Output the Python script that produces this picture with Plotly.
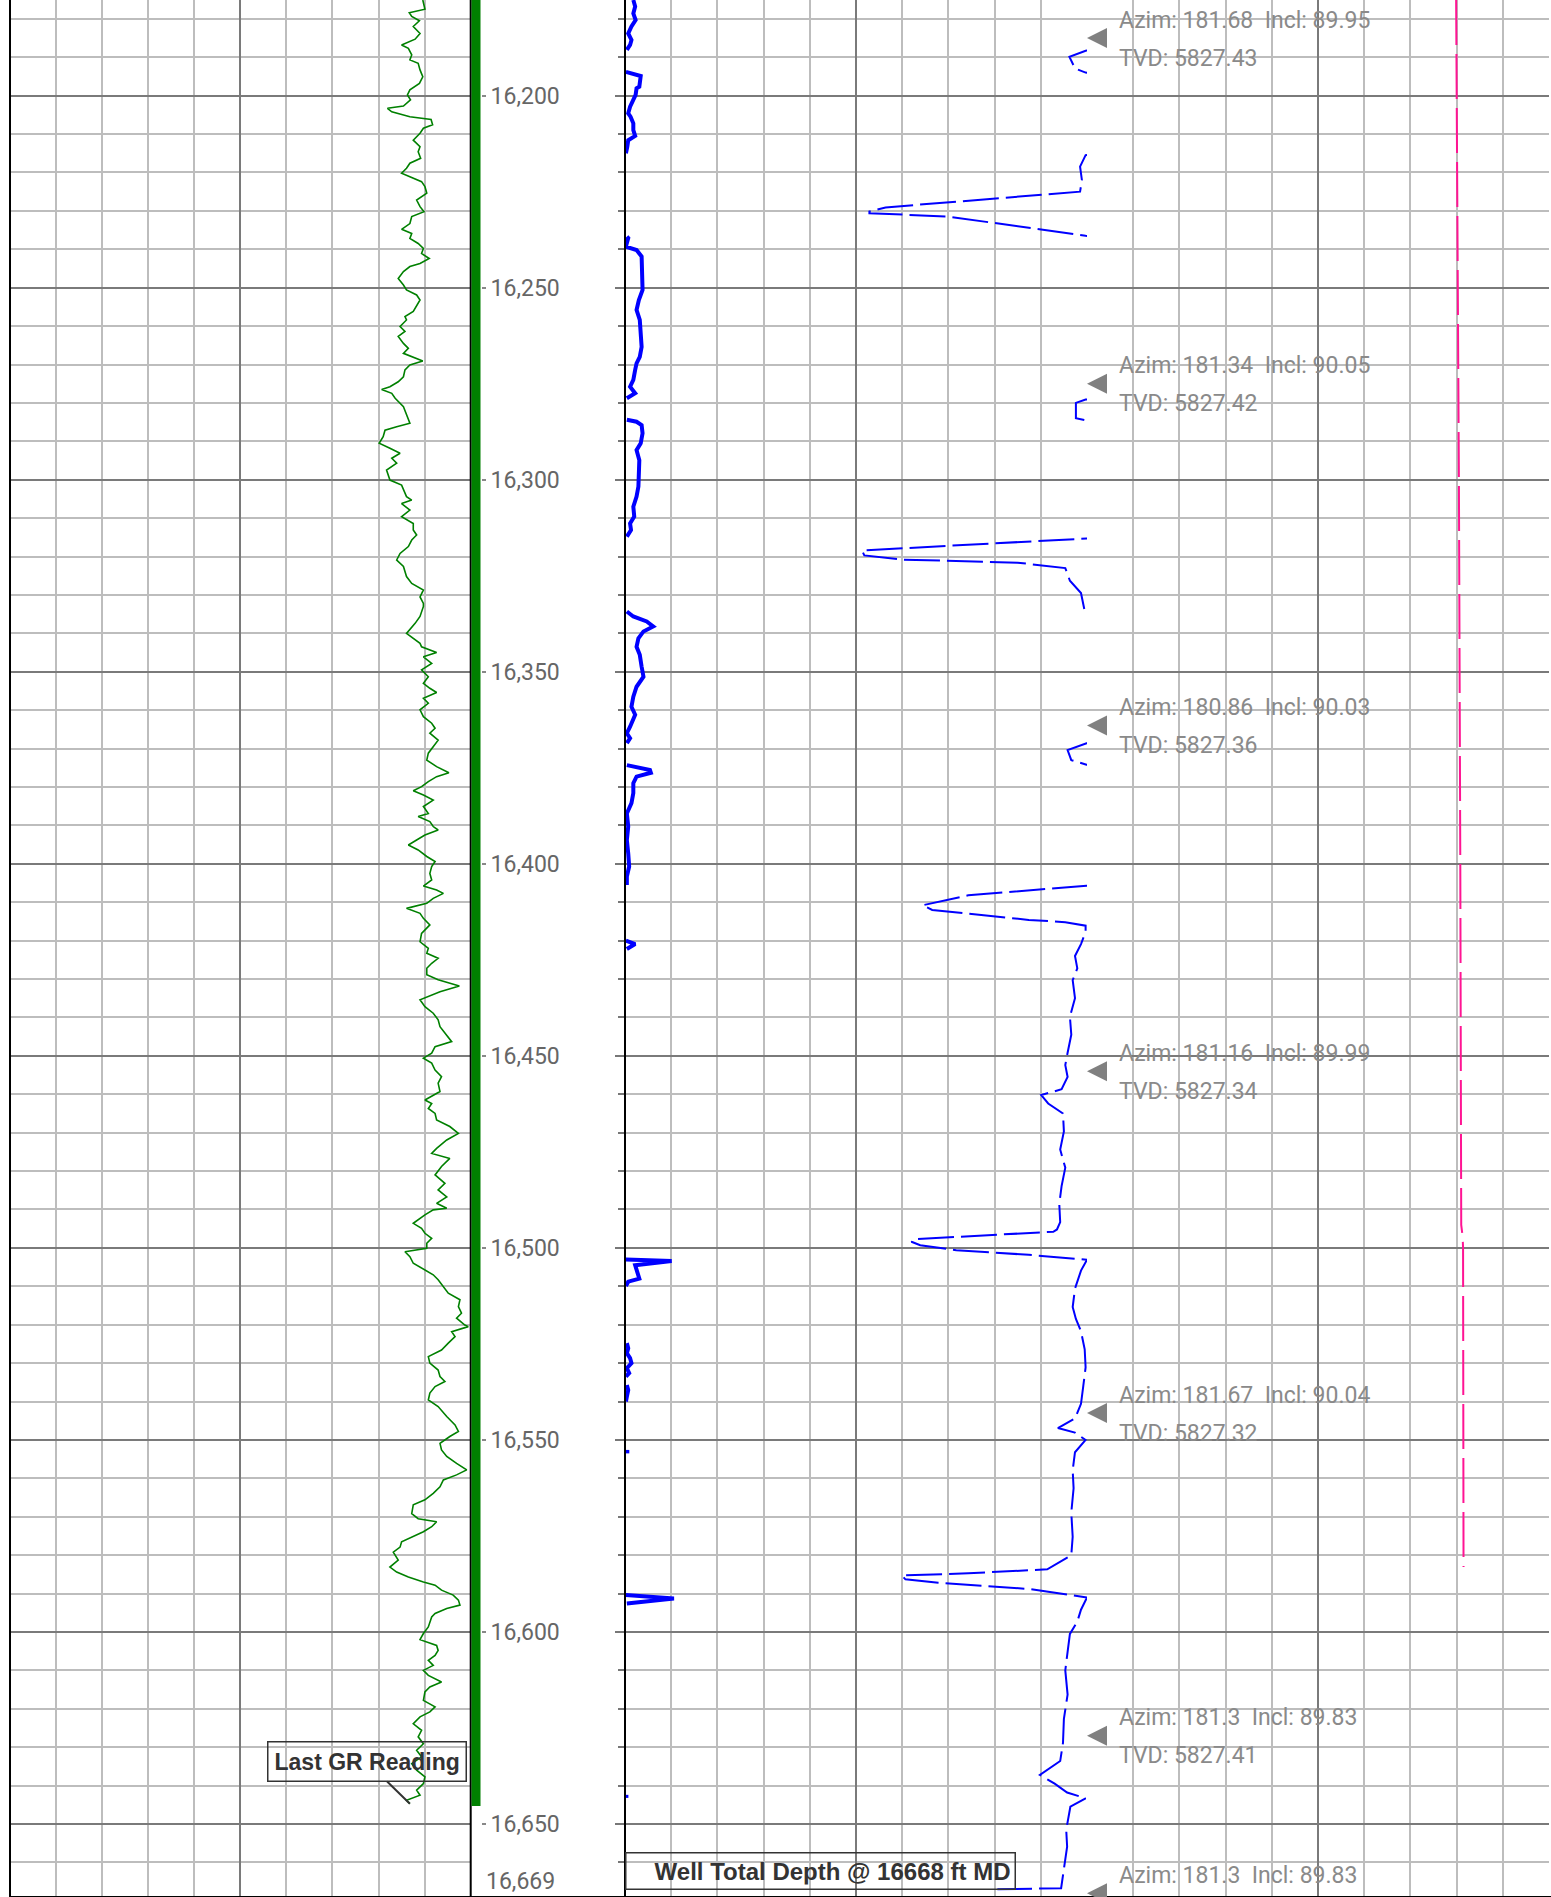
import plotly.graph_objects as go

W, H = 1551, 1897

# ---------------- data ----------------
depth_top = 16175.1
depth_bottom = 16669.0
depth_ticks = [16200, 16250, 16300, 16350, 16400, 16450, 16500, 16550, 16600, 16650]
last_depth_label = "16,669"

gr_depth = [16175.1, 16177.5, 16178.4, 16179.4, 16180.5, 16182.0, 16183.8, 16185.3, 16186.8, 16187.7,
            16189.4, 16190.7, 16191.6, 16193.3, 16195.1, 16196.8, 16198.5, 16199.8, 16201.1, 16202.7,
            16203.3, 16204.2, 16205.5, 16206.2, 16207.6, 16208.5, 16209.8, 16211.6, 16213.3, 16214.6,
            16216.3, 16217.6, 16218.9, 16220.2, 16221.1, 16222.4, 16223.7, 16225.4, 16227.2, 16228.9,
            16230.2, 16231.5, 16233.3, 16234.8, 16235.9, 16237.2, 16238.5, 16239.8, 16241.1, 16242.4,
            16243.7, 16244.5, 16245.8, 16247.6, 16249.3, 16250.6, 16251.9, 16253.2,
            16256.2, 16257.5, 16258.4, 16260.1, 16261.4, 16262.7, 16264.5, 16265.8, 16267.1, 16268.0,
            16269.1, 16270.1, 16271.4, 16273.2, 16274.5, 16275.8, 16276.5, 16277.5, 16278.8, 16281.0,
            16283.2, 16285.3, 16286.2, 16287.1, 16288.8, 16290.5, 16291.8, 16293.1, 16294.4, 16295.7,
            16297.5, 16300.1, 16301.4, 16302.7, 16304.4, 16305.3, 16306.2, 16307.9, 16309.6, 16311.4,
            16313.1, 16314.4, 16315.7, 16317.4, 16319.2, 16320.9, 16322.6, 16325.2, 16327.0, 16328.7,
            16330.5, 16332.2,
            16333.0, 16335.6, 16337.4, 16340.0, 16341.3, 16342.6, 16343.5, 16345.0, 16346.1, 16347.8,
            16349.5, 16351.3, 16353.0, 16354.3, 16355.4, 16356.9, 16358.2, 16359.9, 16361.7, 16363.4,
            16364.7, 16366.0, 16367.8, 16369.5, 16371.2, 16373.0, 16374.7, 16376.3, 16377.3, 16378.6,
            16379.9, 16381.0, 16382.1, 16383.4, 16385.1, 16386.9, 16387.7, 16389.0, 16390.3, 16391.2,
            16392.5, 16393.8, 16395.1, 16396.4, 16398.1, 16399.4, 16400.7, 16402.5, 16404.2, 16405.8,
            16406.8, 16407.7, 16409.0, 16410.3, 16411.6,
            16412.9, 16414.2, 16415.9, 16418.1, 16420.3, 16422.0, 16423.3, 16424.6, 16425.9, 16427.2,
            16428.9, 16430.2, 16431.8, 16433.3, 16435.4, 16437.2, 16438.9, 16440.6, 16442.4, 16444.1,
            16446.3, 16447.6, 16449.3, 16450.6, 16451.9, 16453.7, 16455.4, 16457.1, 16459.3, 16461.5,
            16462.4, 16463.7, 16465.0, 16466.7, 16468.4, 16470.2, 16471.9, 16474.1, 16475.4, 16476.7,
            16478.8, 16481.0, 16483.2, 16484.9, 16486.7, 16488.4, 16489.7,
            16490.1, 16491.4, 16493.6, 16494.9, 16496.2, 16497.5, 16498.8, 16500.1, 16501.0, 16502.3,
            16504.0, 16505.7, 16507.0, 16508.3, 16510.1, 16511.8, 16513.5, 16515.3, 16517.0, 16518.3,
            16520.1, 16520.5, 16521.8, 16523.1, 16524.8, 16526.6, 16528.3, 16530.0, 16531.8, 16533.5,
            16534.8, 16536.1, 16537.8, 16539.6, 16541.3, 16543.9, 16546.1, 16547.8, 16549.1, 16550.9,
            16552.6, 16554.3, 16556.1, 16557.8, 16559.1, 16560.4, 16562.2, 16563.9, 16565.6, 16566.9,
            16569.2, 16570.5, 16571.3, 16572.6, 16573.9, 16575.2, 16576.5, 16577.9, 16579.2, 16581.3,
            16583.1, 16584.4, 16585.7, 16587.0, 16587.8, 16589.1, 16590.4, 16591.7, 16593.0, 16593.9,
            16595.2, 16596.1, 16597.4, 16598.7, 16600.4, 16602.0, 16603.5, 16604.8, 16606.1, 16607.4,
            16608.7, 16610.0, 16611.3, 16613.0, 16614.3, 16615.6, 16617.8, 16619.5, 16620.8, 16622.1,
            16623.9, 16625.6, 16627.3, 16629.1, 16630.8, 16632.5, 16634.3, 16636.0, 16637.7, 16639.5,
            16641.2, 16642.5, 16643.8, 16644.7]
gr_value = [134.4, 135.1, 130.0, 130.8, 133.3, 131.3, 133.5, 131.9, 127.5, 129.7,
            130.8, 130.2, 132.9, 133.5, 134.4, 133.3, 130.2, 129.4, 130.4, 128.1,
            122.9, 124.3, 130.2, 137.1, 137.6, 134.6, 133.5, 131.3, 133.5, 132.9,
            133.7, 130.2, 129.1, 127.5, 130.2, 134.0, 135.1, 135.7, 132.4, 133.5,
            134.8, 130.8, 130.2, 127.5, 130.8, 130.2, 132.9, 134.6, 134.0, 136.5,
            133.5, 130.2, 128.1, 126.4, 128.1, 129.1, 132.4, 133.5,
            131.3, 128.6, 129.1, 127.0, 128.6, 126.4, 128.1, 129.7, 128.1, 130.8,
            134.4, 130.2, 128.6, 128.1, 126.4, 123.7, 121.0, 124.3, 125.4, 128.1,
            129.1, 130.2, 125.9, 122.1, 121.5, 120.2, 123.7, 127.0, 124.3, 125.9,
            122.6, 123.7, 127.5, 128.1, 129.1, 130.8, 127.5, 130.2, 127.5, 131.3,
            131.3, 132.4, 130.8, 129.7, 127.0, 125.9, 128.1, 129.1, 130.8, 134.6,
            133.5, 134.6,
            134.6, 133.5, 131.9, 129.1, 131.3, 133.5, 134.0, 138.9, 134.6, 137.3,
            134.0, 136.2, 134.6, 136.7, 138.9, 134.6, 136.2, 133.5, 134.6, 137.3,
            138.4, 136.7, 139.4, 137.8, 136.2, 135.7, 138.9, 142.9, 138.9, 136.2,
            134.0, 131.3, 134.6, 137.8, 134.6, 136.2, 132.9, 136.7, 137.8, 139.4,
            135.1, 132.4, 129.7, 132.9, 135.7, 138.4, 137.3, 136.7, 137.3, 134.6,
            138.9, 141.1, 137.8, 135.7, 129.1,
            133.5, 134.6, 136.7, 134.0, 133.5, 136.2, 135.7, 139.4, 137.3, 135.7,
            135.7, 139.4, 146.3, 140.0, 133.5, 135.1, 137.8, 139.4, 140.0, 141.6,
            143.8, 138.4, 137.3, 134.6, 137.3, 138.4, 140.5, 139.4, 140.0, 135.1,
            137.3, 136.2, 138.4, 138.9, 143.2, 146.0, 142.2, 138.9, 137.3, 143.2,
            140.5, 138.4, 141.6, 139.4, 142.2, 138.9, 142.2,
            137.8, 135.1, 131.3, 134.0, 135.1, 137.3, 135.7, 135.7, 128.6, 130.2,
            131.3, 135.1, 137.8, 139.4, 141.1, 142.7, 146.5, 146.0, 147.0, 145.4,
            148.1, 149.2, 143.8, 144.9, 142.7, 140.5, 136.2, 136.7, 139.4, 140.0,
            141.6, 138.4, 136.7, 136.2, 139.4, 142.2, 144.9, 146.0, 143.2, 140.0,
            140.5, 142.2, 145.4, 148.7, 145.4, 141.1, 140.0, 137.8, 135.1, 131.3,
            130.8, 132.9, 138.9, 137.3, 134.6, 131.3, 127.5, 127.0, 124.8, 126.4,
            123.7, 125.9, 129.7, 134.6, 138.4, 140.5, 144.3, 146.0, 146.5, 142.2,
            138.4, 137.3, 136.7, 136.2, 134.6, 133.5, 138.9, 139.4, 138.4, 136.2,
            137.8, 134.6, 136.2, 140.5, 136.7, 135.1, 134.6, 138.4, 136.7, 133.5,
            131.3, 134.0, 132.9, 134.6, 132.4, 134.0, 130.8, 132.4, 135.1, 134.6,
            132.4, 133.5, 129.1, 130.2]

# thick blue curve (track 2, left), None = no data
rop_depth = [16175.1, 16176.8, 16178.6, 16180.3, 16182.0, 16183.8, 16185.5, 16186.8, 16188.1, None,
             16193.8, 16194.9, 16197.7, 16198.1, 16199.8, 16201.1, 16202.9, 16204.6, 16205.5, 16207.2,
             16209.0, 16210.5, 16211.6, 16213.3, 16215.0, None,
             16236.7, 16237.1, 16239.3, 16240.2, 16241.9, 16244.5, 16248.0, 16250.6, 16253.2, 16255.8,
             16258.4, 16261.9, 16265.4, 16268.0, 16269.7, 16271.4, 16274.0, 16275.8, 16277.5, 16278.8, None,
             16284.4, 16284.9, 16285.8, 16287.9, 16290.5, 16292.3, 16294.9, 16298.3, 16301.8, 16304.4,
             16307.0, 16309.6, 16311.4, 16313.1, 16314.8, None,
             16334.3, 16335.6, 16336.9, 16338.2, 16339.5, 16341.3, 16343.5, 16345.6, 16348.7, 16351.3,
             16353.9, 16356.5, 16359.1, 16361.2, 16364.3, 16366.0, 16367.3, 16368.6, None,
             16374.3, 16374.7, 16375.6, 16376.3, 16377.3, 16379.0, 16381.6, 16384.2, 16386.9, 16390.3,
             16393.8, 16397.3, 16400.7, 16403.3, 16405.5, None,
             16420.0, 16420.9, 16422.2, None,
             16503.0, 16503.4, 16504.5, 16505.7, 16508.0, 16508.8, 16509.9, None,
             16524.8, 16526.1, 16527.4, 16528.7, 16530.0, 16531.3, 16532.6, 16533.5, None,
             16535.7, 16537.0, 16538.7, 16540.0, None,
             16552.6, 16553.5, None,
             16590.4, 16591.3, 16592.6, None,
             16642.4, 16643.2]
rop_value = [1.8, 2.2, 1.8, 2.3, 1.4, 0.7, 1.4, 1.1, 0.4, None,
             0.2, 3.4, 3.1, 2.5, 2.3, 1.8, 1.1, 0.7, 1.2, 1.8,
             1.8, 2.2, 0.7, 0.5, 0.2, None,
             0.4, 0.7, 0.2, 2.5, 3.6, 3.6, 3.6, 3.8, 3.0, 2.5,
             3.2, 3.4, 3.6, 3.2, 2.5, 2.2, 1.8, 1.1, 2.2, 0.4, None,
             0.4, 2.5, 3.6, 3.8, 3.4, 2.5, 3.1, 2.9, 2.9, 2.5,
             1.8, 2.0, 1.1, 1.3, 0.4, None,
             0.4, 1.8, 4.7, 6.1, 4.0, 2.9, 2.5, 3.2, 3.6, 4.0,
             2.5, 1.8, 1.4, 2.2, 1.1, 0.4, 1.1, 0.4, None,
             0.4, 1.8, 5.4, 5.6, 2.5, 1.8, 1.8, 1.4, 0.4, 0.7,
             0.4, 0.7, 0.9, 0.4, 0.4, None,
             0.2, 2.2, 0.4, None,
             0.2, 10.1, 2.2, 2.5, 3.1, 0.7, 0.2, None,
             0.4, 0.7, 0.4, 1.1, 1.4, 0.4, 0.9, 0.2, None,
             0.4, 0.7, 0.4, 0.2, None,
             0.5, 0.5, None,
             0.2, 10.6, 0.4, None,
             0.3, 0.3]

# thin dashed blue curve (track 2); values above 100 run off the track
dx_depth = [16175.1, 16187.6, 16188.3, 16189.9, 16192.9, 16194.0, 16194.6, 16214.9, 16215.5, 16218.5,
            16222.0, 16225.0, 16229.1, 16230.2, 16230.6, 16231.5, 16233.1, 16234.8, 16236.5, 16237.1,
            16278.5, 16279.1, 16280.0, 16284.0, 16284.5, 16285.1, 16314.8, 16315.3, 16318.4, 16319.7,
            16320.8, 16321.6, 16323.0, 16326.3, 16329.5, 16334.2, 16334.8, 16368.0, 16368.6, 16370.4,
            16373.0, 16374.2, 16374.8, 16405.1, 16405.7, 16408.2, 16410.5, 16410.8, 16412.0, 16414.6,
            16415.2, 16416.1, 16417.7, 16420.9, 16424.0, 16427.2, 16430.3, 16435.0, 16439.8, 16444.5,
            16449.2, 16452.4, 16455.5, 16458.7, 16460.2, 16462.4, 16465.0, 16469.7, 16474.4, 16479.1,
            16483.9, 16488.6, 16493.3, 16495.2, 16495.8, 16497.7, 16498.4, 16499.3, 16500.6, 16501.8,
            16503.1, 16505.9, 16510.6, 16515.4, 16518.5, 16521.7, 16526.4, 16531.1, 16535.9, 16540.6,
            16544.4, 16546.9, 16548.1, 16550.0, 16553.2, 16557.9, 16562.6, 16568.9, 16575.2, 16580.0,
            16583.7, 16584.7, 16585.3, 16586.3, 16587.2, 16588.8, 16591.0, 16594.2, 16597.3, 16600.5,
            16605.2, 16610.0, 16616.3, 16622.6, 16628.9, 16633.6, 16637.2, 16639.5, 16641.8, 16643.3,
            16645.5, 16651.5, 16655.9, 16661.1, 16666.7, 16667.0]
dx_value = [110, 110, 99.7, 96.2, 97.4, 99.7, 110, 110, 99.7, 98.5,
            98.9, 98.5, 56.4, 52.9, 52.9, 69.9, 79.6, 89.6, 99.7, 110,
            110, 99.7, 97.6, 97.6, 99.7, 110, 110, 99.9, 51.3, 51.8,
            60.0, 85.0, 95.3, 96.3, 98.7, 99.5, 110, 110, 99.9, 95.8,
            96.6, 99.9, 110, 110, 99.9, 74.3, 65.2, 64.4, 66.5, 87.4,
            95.3, 99.7, 99.7, 98.7, 97.4, 97.9, 96.9, 97.4, 96.3, 96.6,
            95.8, 95.3, 95.8, 94.5, 90.1, 91.6, 94.8, 95.0, 94.2, 95.3,
            94.5, 94.0, 94.2, 93.5, 92.7, 62.8, 62.0, 63.9, 71.7, 87.4,
            100.0, 98.7, 97.4, 96.9, 97.6, 98.7, 99.5, 99.7, 99.2, 98.7,
            97.4, 93.7, 97.4, 99.7, 97.4, 96.9, 97.1, 96.6, 96.9, 96.6,
            91.4, 74.3, 59.9, 60.7, 67.8, 87.4, 100.0, 98.7, 97.9, 96.3,
            95.8, 95.3, 95.8, 95.0, 94.8, 94.2, 89.8, 93.0, 95.7, 99.7,
            96.4, 95.5, 95.7, 95.1, 94.4, 80.6]

# pink dashed curve (track 3)
pink_depth = [16175.1, 16250.0, 16300.0, 16400.0, 16494.0, 16497.0, 16500.0, 16583.1]
pink_value = [79.9, 80.3, 80.5, 80.8, 81.0, 81.3, 81.4, 81.5]

# surveys (TVD of the last station falls below the chart and is not shown)
survey_md = [16185, 16275, 16364, 16454, 16543, 16627, 16668]
survey_azim = ["181.68", "181.34", "180.86", "181.16", "181.67", "181.3", "181.3"]
survey_incl = ["89.95", "90.05", "90.03", "89.99", "90.04", "89.83", "89.83"]
survey_tvd = ["5827.43", "5827.42", "5827.36", "5827.34", "5827.32", "5827.41", None]

td_md = 16668

# ---------------- styling ----------------
MAJ = "#7a7a7a"
MIN = "#bdbdbd"
FONT = "Roboto"

T1 = [10 / W, 470.7 / W]
T2 = [625 / W, 1087 / W]
T3 = [1087 / W, 1549 / W]

fig = go.Figure()

fig.add_trace(go.Scatter(x=gr_value, y=gr_depth, mode="lines", line=dict(color="#008000", width=1.6),
                         xaxis="x", yaxis="y", showlegend=False, hoverinfo="skip"))
fig.add_trace(go.Scatter(x=rop_value, y=rop_depth, mode="lines", line=dict(color="#0000ff", width=4),
                         connectgaps=False, xaxis="x2", yaxis="y", showlegend=False, hoverinfo="skip"))
fig.add_trace(go.Scatter(x=dx_value, y=dx_depth, mode="lines",
                         line=dict(color="#0000ff", width=2, dash="36px,7px"),
                         xaxis="x2", yaxis="y", showlegend=False, hoverinfo="skip"))
fig.add_trace(go.Scatter(x=pink_value, y=pink_depth, mode="lines",
                         line=dict(color="#ff1493", width=2, dash="45px,9px"),
                         xaxis="x3", yaxis="y", showlegend=False, hoverinfo="skip"))
# carrier for the tick-only axis on the left edge of track 2
fig.add_trace(go.Scatter(x=[None], y=[None], xaxis="x2", yaxis="y2", showlegend=False, hoverinfo="skip"))

def xgrid(domain, rng, majors):
    return dict(domain=domain, range=rng, anchor="y", showticklabels=False, ticks="",
                tickmode="array", tickvals=majors, showgrid=True, gridcolor=MAJ, gridwidth=2,
                minor=dict(tickmode="linear", tick0=0, dtick=(rng[1] - rng[0]) / 10, showgrid=True,
                           gridcolor=MIN, gridwidth=1.5, ticks=""),
                zeroline=False, showline=True, linecolor="black", linewidth=2, fixedrange=True)

shapes = []
# track borders
for ref in ["x domain", "x2 domain"]:
    shapes.append(dict(type="line", xref=ref, yref="paper", x0=0, x1=0, y0=0, y1=1,
                       line=dict(color="black", width=2)))
shapes.append(dict(type="line", xref="x domain", yref="paper", x0=1, x1=1, y0=0, y1=1,
                   line=dict(color="black", width=2)))
shapes.append(dict(type="line", xref="paper", yref="paper", x0=10 / W, x1=1, y0=0, y1=0,
                   line=dict(color="black", width=2)))
# GR coverage bar
shapes.append(dict(type="line", xref="paper", yref="y", x0=476 / W, x1=476 / W,
                   y0=gr_depth[0] - 1, y1=gr_depth[-1] + 0.6, line=dict(color="#008000", width=9)))
# survey markers
for md in survey_md:
    shapes.append(dict(type="path", xref="x3", yref="y", xsizemode="pixel", ysizemode="pixel",
                       xanchor=0, yanchor=md, path="M0,0 L20,10 L20,-10 Z",
                       fillcolor="#808080", line=dict(width=0)))

annotations = []
for md, az, inc, tvd in zip(survey_md, survey_azim, survey_incl, survey_tvd):
    annotations.append(dict(xref="x3", yref="y", x=0, y=md, xanchor="left", yanchor="middle",
                            xshift=30, yshift=18, showarrow=False,
                            text=f"Azim: {az}\u00a0\u00a0Incl: {inc}",
                            font=dict(family=FONT, size=23, color="#8a8a8a")))
    if tvd is not None:
        annotations.append(dict(xref="x3", yref="y", x=0, y=md, xanchor="left", yanchor="middle",
                                xshift=30, yshift=-20, showarrow=False, text=f"TVD: {tvd}",
                                font=dict(family=FONT, size=23, color="#8a8a8a")))

annotations.append(dict(xref="paper", yref="y", x=484 / W, y=depth_bottom, xanchor="left",
                        yanchor="bottom", showarrow=False, text=last_depth_label,
                        font=dict(family=FONT, size=23, color="#666666")))

annotations.append(dict(xref="x", yref="y", x=gr_value[-1], y=gr_depth[-1], showarrow=True,
                        arrowhead=0, arrowwidth=2, arrowcolor="#333333", ax=-43, ay=-42,
                        text="<b>Last GR Reading</b>", bordercolor="#333333", borderwidth=1.5,
                        borderpad=6, bgcolor="rgba(0,0,0,0)",
                        font=dict(family="Liberation Sans, Arial", size=23, color="#333333")))

annotations.append(dict(xref="x2", yref="y", x=0, y=td_md, xanchor="left", yanchor="bottom",
                        yshift=3, showarrow=False, text=f"<b>Well Total Depth @ {td_md} ft MD</b>",
                        width=380, align="right",
                        bordercolor="#333333", borderwidth=1.5, borderpad=4, bgcolor="rgba(0,0,0,0)",
                        font=dict(family="Liberation Sans, Arial", size=24, color="#333333")))

fig.update_layout(
    width=W, height=H, margin=dict(l=0, r=0, t=0, b=0),
    paper_bgcolor="white", plot_bgcolor="white",
    showlegend=False,
    xaxis=xgrid(T1, [0, 150], [75]),
    xaxis2=xgrid(T2, [0, 100], [50]),
    xaxis3=xgrid(T3, [0, 100], [0, 50]),
    yaxis=dict(domain=[0, 1], range=[depth_bottom, depth_top], autorange=False,
               anchor="free", position=481 / W, side="right",
               tickmode="array", tickvals=depth_ticks, ticktext=[f"{d:,}" for d in depth_ticks],
               ticks="outside", ticklen=4, tickwidth=2, tickcolor="#888888",
               tickfont=dict(family=FONT, size=23, color="#666666"),
               showgrid=True, gridcolor=MAJ, gridwidth=2,
               minor=dict(tickmode="linear", tick0=16200, dtick=10, showgrid=True, gridcolor=MIN,
                          gridwidth=1.5, ticks=""),
               zeroline=False, showline=False, fixedrange=True),
    yaxis2=dict(overlaying="y", matches="y", anchor="free", position=625 / W, side="left",
                tickmode="array", tickvals=depth_ticks, showticklabels=False,
                ticks="outside", ticklen=10, tickwidth=2, tickcolor="#777777",
                minor=dict(tickmode="linear", tick0=16200, dtick=10, ticks="outside", ticklen=7,
                           tickwidth=2, tickcolor="#777777", showgrid=False),
                showgrid=False, zeroline=False, showline=False, fixedrange=True),
    shapes=shapes,
    annotations=annotations,
)

fig.write_html("out.html", config={"displayModeBar": False},
               post_script="document.body.style.margin='0px';document.body.style.overflow='hidden';")
